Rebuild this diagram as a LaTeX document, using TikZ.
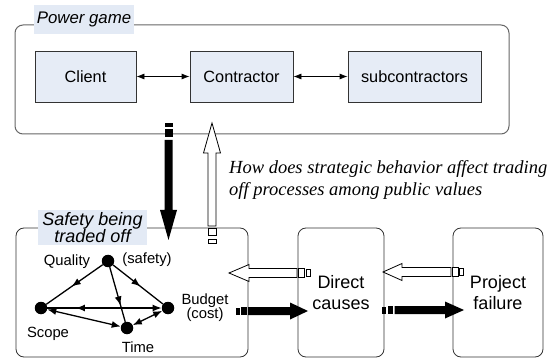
\documentclass[tikz,border=0pt]{standalone}
\usepackage{fontspec}
\setmainfont{Liberation Sans}
\newfontfamily\timesfont{Liberation Serif}
\usetikzlibrary{arrows.meta,decorations.markings}
\definecolor{boxblue}{HTML}{E6ECF6}
\definecolor{labelblue}{HTML}{E3EAF5}
\definecolor{framegray}{HTML}{666666}
\tikzset{
  actor/.style={draw=black!80, fill=boxblue, line width=0.8pt, minimum height=51pt, inner sep=0pt, font=\fontsize{16.3}{19}\selectfont},
  framebox/.style={draw=framegray, line width=1pt, rounded corners=8pt, inner sep=0pt},
  stagebox/.style={draw=black!80, line width=0.8pt, rounded corners=8pt, minimum height=129pt, inner sep=0pt, align=center, font=\fontsize{18}{21}\selectfont},
  gdot/.style={circle, fill=black, minimum size=12.5pt, inner sep=0pt},
  glabel/.style={font=\fontsize{14.8}{14}\selectfont, inner sep=0pt, align=center},
  gedge/.style={line width=1.3pt},
  ghead/.style={-{Latex[length=9pt,width=7pt]}},
  gboth/.style={{Latex[length=9pt,width=7pt]}-{Latex[length=9pt,width=7pt]}},
  midarrow/.style={postaction={decorate}, decoration={markings, mark=at position #1 with {\arrow{Latex[length=9pt,width=7pt]}}}},
  revarrow/.style={postaction={decorate}, decoration={markings, mark=at position #1 with {\arrowreversed{Latex[length=9pt,width=7pt]}}}},
  hollow/.style={draw=black, line width=0.8pt, fill=white},
  solidarrow/.style={fill=black},
  topconn/.style={line width=0.8pt, {Latex[length=8pt,width=6pt]}-{Latex[length=8pt,width=6pt]}},
}
\begin{document}
\begin{tikzpicture}[x=1pt,y=-1pt]
\useasboundingbox (0,0) rectangle (557,358);

% top container
\node[framebox, minimum width=494pt, minimum height=109pt] (pg) at (262,79.5) {};
\node[fill=labelblue, minimum width=100pt, minimum height=29pt, inner sep=0pt, font=\fontsize{16.8}{19}\selectfont\itshape] (pglabel) at (84,19.5) {Power game};

\node[actor, minimum width=101pt] (client) at (85.5,76.5) {Client};
\node[actor, minimum width=103pt] (contractor) at (241.5,76.5) {Contractor};
\node[actor, minimum width=133pt] (sub) at (414.5,76.5) {subcontractors};
\draw[topconn] (client) -- (contractor);
\draw[topconn] (contractor) -- (sub);

% bottom boxes
\node[stagebox, minimum width=232pt] (trade) at (132,292.5) {};
\node[stagebox, minimum width=86pt] (direct) at (341,292.5) {Direct\\causes};
\node[stagebox, minimum width=90pt] (failure) at (498,292.5) {Project\\failure};

\node[fill=labelblue, minimum width=109pt, minimum height=35pt, inner sep=0pt, align=center, font=\fontsize{18}{15}\selectfont\itshape] (tradelabel) at (92.5,227.5) {Safety being\\traded off};

% question text
\node[anchor=west, align=left, inner sep=0pt, font=\timesfont\itshape\fontsize{18.5}{22}\selectfont] (question) at (229,180) {How does strategic behavior affect trading\\off processes among public values};

% graph
\node[gdot] (Q) at (108,261) {};
\node[gdot] (S) at (41,308) {};
\node[gdot] (B) at (168,308) {};
\node[gdot] (T) at (127,328) {};
\node[glabel] (lq) at (67,262) {Quality};
\node[glabel] (ls) at (147,260) {(safety)};
\node[glabel] (lsc) at (48,334) {Scope};
\node[glabel] (lt) at (138,347) {Time};
\node[glabel] (lb) at (205,308) {Budget\\(cost)};

\draw[gedge, midarrow=0.55] (Q) -- (S);
\draw[gedge, midarrow=0.55] (Q) -- (B);
\draw[gedge, midarrow=0.7] (Q) -- (T);
\draw[gedge, ghead, revarrow=0.25] (S) -- (B);
\draw[gedge, gboth] (S) -- (T);
\draw[gedge, gboth] (T) -- (B);

% black down arrow (power game -> trade-off)
\fill[solidarrow] (164.5,123) rectangle (172.5,127);
\fill[solidarrow] (164.5,129.5) rectangle (172.5,137.5);
\fill[solidarrow] (164.5,140) -- (164.5,210) -- (160,210) -- (168.5,240) -- (177,210) -- (172.5,210) -- (172.5,140) -- cycle;

% hollow up arrow
\draw[hollow] (208,226) -- (208,153) -- (203.5,153) -- (212,123) -- (220.5,153) -- (216,153) -- (216,226) -- cycle;
\draw[hollow] (208,228.5) rectangle (216,235.5);
\draw[hollow] (208,239) rectangle (216,243);

% hollow left arrow direct -> trade
\draw[hollow] (297,268.5) -- (249,268.5) -- (249,264.5) -- (229,273) -- (249,281.5) -- (249,277.5) -- (297,277.5) -- cycle;
\draw[hollow] (298.5,268.5) rectangle (304.5,277.5);
\draw[hollow] (306,269.5) rectangle (310,276.5);

% hollow left arrow failure -> direct
\draw[hollow] (451,267.5) -- (402,267.5) -- (402,263.5) -- (383,272) -- (402,280.5) -- (402,276.5) -- (451,276.5) -- cycle;
\draw[hollow] (452.5,267.5) rectangle (458,276.5);
\draw[hollow] (459.5,268.5) rectangle (463.5,275.5);

% black right arrow trade -> direct
\fill[solidarrow] (236,307.5) rectangle (239.5,314.5);
\fill[solidarrow] (241,307) rectangle (246.5,315);
\fill[solidarrow] (248,307) -- (290,307) -- (290,302.5) -- (308,311) -- (290,319.5) -- (290,315) -- (248,315) -- cycle;

% black right arrow direct -> failure
\fill[solidarrow] (382,306.5) rectangle (386,313.5);
\fill[solidarrow] (388,306) rectangle (393,314);
\fill[solidarrow] (394.5,306) -- (445,306) -- (445,301.5) -- (464,310) -- (445,318.5) -- (445,314) -- (394.5,314) -- cycle;
\end{tikzpicture}
\end{document}
